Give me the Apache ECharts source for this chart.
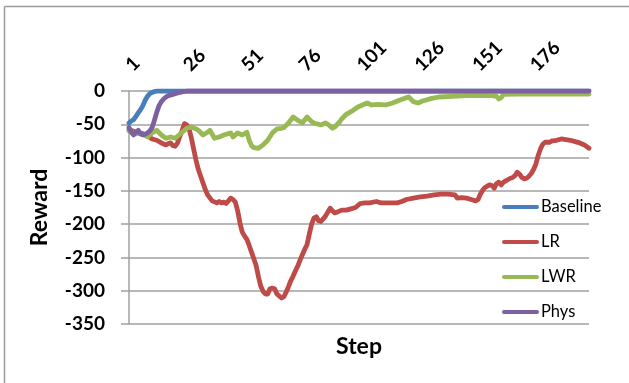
<!DOCTYPE html>
<html>
<head>
<meta charset="utf-8">
<script src="https://cdn.jsdelivr.net/npm/echarts@6/dist/echarts.min.js"></script>
<style>
html,body{margin:0;padding:0;background:#fff;}
#chart{width:629px;height:383px;}
</style>
</head>
<body>
<div id="chart"></div>
<script>
// ---- Data ----
const seriesNames = ['Baseline', 'LR', 'LWR', 'Phys'];
const xTickLabels = [1, 26, 51, 76, 101, 126, 151, 176];
const yTicks = [0, -50, -100, -150, -200, -250, -300, -350];

const baselineSteps  = [1, 2, 3, 4, 5, 6, 7, 8, 9, 10, 11, 12, 13, 200];
const baselineValues = [-48, -45, -43, -38, -33, -28, -22, -14, -8, -4, -2, -1, 0, 0];

const lrSteps = [1, 4, 7, 9, 11, 13, 15, 17, 18, 19, 20, 21, 22, 23, 24, 25, 26, 27, 28, 29, 30, 31, 32, 33, 34, 35, 37, 39, 40, 41, 42, 43, 44, 45, 46, 47, 48, 49, 50, 51, 52, 53, 54, 55, 56, 57, 58, 59, 60, 61, 62, 63, 64, 65, 66, 67, 68, 69, 70, 71, 72, 73, 74, 75, 76, 77, 78, 79, 80, 81, 82, 83, 84, 85, 86, 87, 88, 89, 90, 91, 93, 95, 97, 99, 101, 103, 105, 108, 110, 113, 117, 119, 121, 124, 127, 130, 133, 136, 139, 142, 143, 145, 147, 149, 151, 152, 153, 154, 155, 156, 157, 158, 159, 160, 161, 162, 163, 164, 165, 166, 167, 168, 169, 170, 171, 172, 173, 174, 175, 176, 177, 178, 179, 180, 181, 183, 184, 186, 188, 190, 192, 194, 196, 198, 200];
const lrValues = [-58, -62, -64, -67, -72, -74, -78, -81, -79, -78, -82, -83, -78, -68, -59, -49, -51, -57, -71, -88, -104, -118, -128, -138, -148, -156, -165, -168, -166, -168, -167, -169, -165, -161, -163, -167, -180, -198, -212, -218, -223, -232, -242, -252, -262, -279, -293, -301, -305, -305, -297, -296, -297, -305, -308, -311, -309, -302, -294, -285, -278, -270, -263, -254, -246, -238, -231, -215, -200, -191, -189, -195, -196, -192, -188, -182, -176, -180, -183, -182, -179, -179, -177, -175, -169, -168, -168, -166, -168, -168, -168, -166, -163, -161, -159, -158, -156, -155, -155, -156, -161, -160, -161, -163, -165, -163, -155, -149, -145, -143, -141, -142, -146, -139, -137, -141, -137, -135, -133, -131, -130, -127, -122, -125, -130, -132, -131, -128, -124, -118, -110, -97, -87, -80, -77, -77, -75, -74, -72, -73, -74, -76, -78, -81, -86];

const lwrSteps = [1, 3, 5, 7, 9, 11, 13, 15, 17, 19, 21, 23, 24, 26, 28, 30, 31, 33, 35, 36, 38, 40, 42, 44, 45, 46, 48, 50, 52, 53, 54, 55, 57, 59, 61, 63, 65, 67, 68, 70, 72, 74, 76, 78, 80, 81, 84, 86, 87, 89, 90, 92, 93, 95, 97, 98, 100, 102, 104, 106, 109, 112, 115, 118, 121, 122, 124, 126, 128, 132, 135, 141, 147, 153, 158, 160, 161, 162, 163, 170, 200];
const lwrValues = [-60, -63, -64, -65, -69, -63, -59, -66, -71, -69, -71, -65, -62, -56, -54, -57, -59, -66, -62, -59, -71, -69, -66, -64, -63, -69, -63, -66, -62, -74, -82, -85, -86, -81, -74, -63, -57, -56, -55, -48, -39, -44, -48, -39, -46, -48, -51, -48, -50, -56, -54, -47, -42, -35, -31, -29, -24, -21, -18, -21, -20, -21, -18, -14, -10, -9, -16, -18, -15, -11, -9, -8, -7, -7, -7, -8, -12, -10, -5, -4.5, -4.5];

const physSteps  = [1, 2, 3, 4, 5, 6, 7, 8, 9, 10, 11, 12, 13, 14, 15, 16, 17, 18, 20, 22, 24, 26, 200];
const physValues = [-55, -62, -66, -62, -59, -64, -66, -65, -63, -60, -55, -44, -32, -22, -16, -12, -9, -7, -5, -3, -1.5, 0, 0];

const colors = ['#4A7EBB', '#BE4B48', '#98B954', '#7D60A0'];

function pairs(steps, values) { return steps.map((s, i) => [s, values[i]]); }
const seriesData = [
  pairs(baselineSteps, baselineValues),
  pairs(lrSteps, lrValues),
  pairs(lwrSteps, lwrValues),
  pairs(physSteps, physValues)
];

const FONT = 'Lato';
const chart = echarts.init(document.getElementById('chart'), null, {renderer: 'canvas'});
const option = {
  animation: false,
  backgroundColor: '#ffffff',
  grid: {left: 129, right: 40, top: 91, bottom: 59, containLabel: false},
  xAxis: {
    type: 'value', position: 'top', min: 1, max: 200,
    axisLine: {show: false}, axisTick: {show: false}, splitLine: {show: false},
    axisLabel: {
      customValues: xTickLabels, rotate: 45, margin: 23,
      color: '#000', fontFamily: FONT, fontWeight: 'bold', fontSize: 19
    }
  },
  yAxis: {
    type: 'value', min: -350, max: 0, interval: 50,
    name: 'Reward', nameLocation: 'middle', nameGap: 78, nameRotate: 90,
    nameTextStyle: {color: '#000', fontFamily: FONT, fontWeight: 'bold', fontSize: 23},
    axisLine: {show: true, lineStyle: {color: '#a0a0a0', width: 1.5}},
    axisTick: {show: true, length: 8, lineStyle: {color: '#a0a0a0', width: 1.5}},
    splitLine: {show: true, lineStyle: {color: '#a0a0a0', width: 1.5}},
    axisLabel: {margin: 24, color: '#000', fontFamily: FONT, fontWeight: 'bold', fontSize: 19}
  },
  legend: {
    orient: 'vertical', left: 497, top: 193, selectedMode: false,
    data: seriesNames,
    icon: 'path://M2,0 H35 A2,2 0 0 1 35,4 H2 A2,2 0 0 1 2,0 Z',
    itemWidth: 37, itemHeight: 4, itemGap: 17,
    textStyle: {color: '#000', fontFamily: FONT, fontSize: 16.5, lineHeight: 18, padding: [0, 0, 0, -3]}
  },
  graphic: [
    {type: 'line', shape: {x1: 4.5, y1: 6.5, x2: 640, y2: 6.5}, style: {stroke: '#9a9a9a', lineWidth: 1.5}, silent: true},
    {type: 'line', shape: {x1: 4.5, y1: 6.5, x2: 4.5, y2: 400}, style: {stroke: '#9a9a9a', lineWidth: 1.5}, silent: true},
    {type: 'text', x: 359, y: 347, style: {text: 'Step', fill: '#000', font: 'bold 23px Lato', textAlign: 'center', textVerticalAlign: 'middle'}, silent: true}
  ],
  series: seriesNames.map((n, i) => ({
    name: n, type: 'line', data: seriesData[i], symbol: 'none', showSymbol: false,
    lineStyle: {color: colors[i], width: 4.8, cap: 'round', join: 'round'},
    itemStyle: {color: colors[i]}, z: 2 + i
  }))
};
chart.setOption(option);
</script>
</body>
</html>
